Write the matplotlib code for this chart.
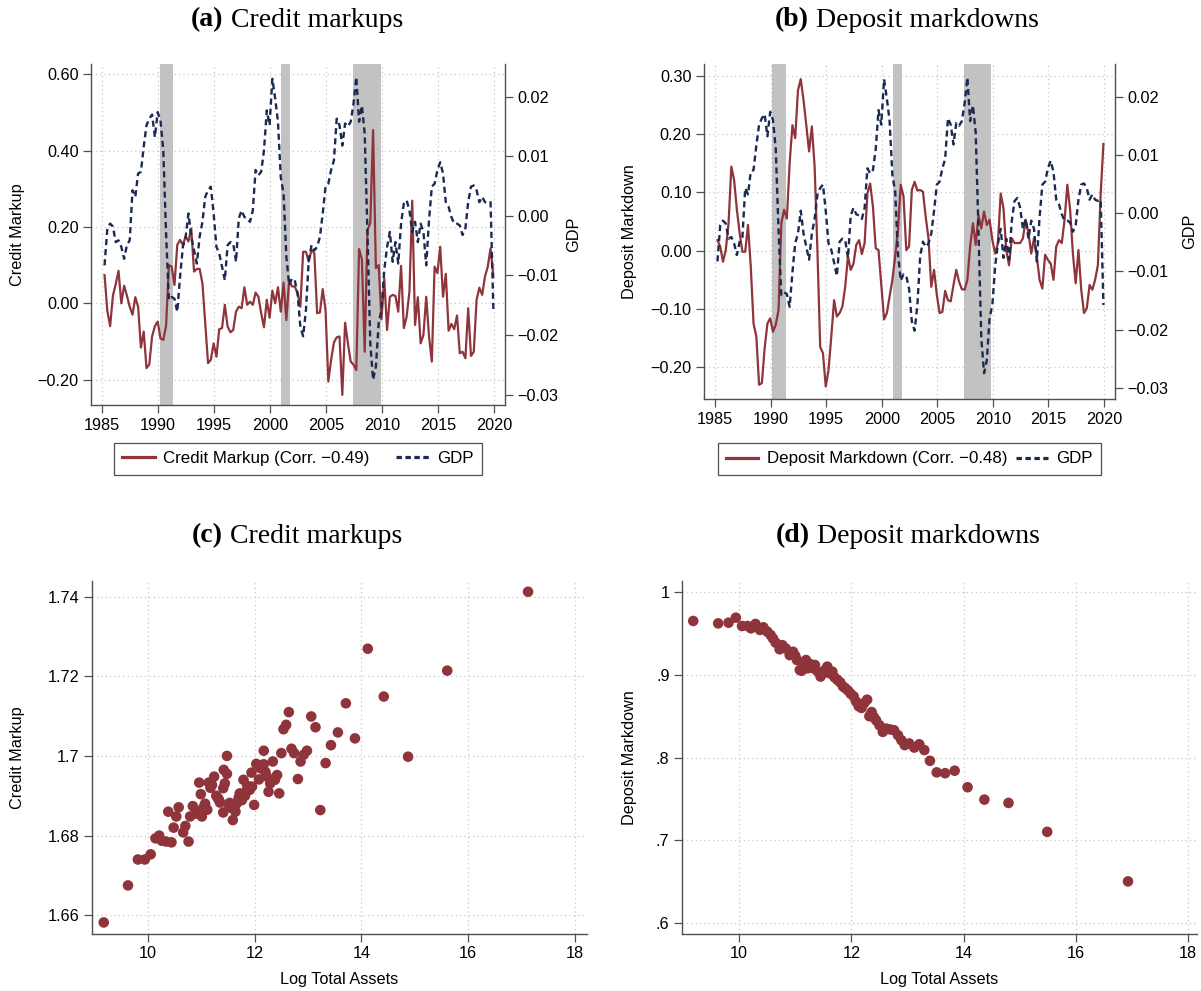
import numpy as np
import matplotlib
matplotlib.use("Agg")
import matplotlib.pyplot as plt
from matplotlib.ticker import FuncFormatter, FixedLocator
from matplotlib.offsetbox import TextArea, HPacker, AnchoredOffsetbox
from matplotlib.lines import Line2D

# ---------------- data ----------------
start_year = 1985.21          # first quarter plotted
credit_markup = [
    0.074, -0.02, -0.06, 0.02, 0.05, 0.085, 0.0, 0.046, 0.02, -0.009,
    -0.03, 0.016, -0.009, -0.116, -0.074, -0.17, -0.16, -0.087, -0.06, -0.048,
    -0.092, -0.096, -0.059, 0.10, 0.096, 0.048, 0.153, 0.166, 0.153, 0.175,
    0.162, 0.196, 0.083, 0.09, 0.09, 0.052, -0.052, -0.157, -0.148, -0.105,
    -0.14, -0.068, -0.065, -0.004, -0.061, -0.076, -0.07, -0.022, -0.009, -0.013,
    0.042, -0.004, 0.004, -0.004, 0.028, 0.017, -0.026, -0.063, 0.009, -0.038,
    0.033, 0.0, 0.042, -0.022, 0.054, -0.044, 0.061, 0.044, 0.044, 0.026,
    -0.009, 0.135, 0.135, 0.109, 0.14, 0.131, -0.026, -0.024, 0.037, -0.017,
    -0.205, -0.148, -0.103, -0.089, -0.087, -0.24, -0.051, -0.105, -0.153, -0.161,
    -0.175, 0.142, 0.115, -0.127, 0.192, 0.21, 0.454, 0.092, 0.10, -0.042,
    0.065, -0.07, 0.017, 0.022, 0.019, -0.022, 0.098, -0.065, -0.035, 0.031,
    0.269, -0.057, 0.016, -0.105, -0.083, 0.017, -0.087, -0.153, 0.096, 0.079,
    0.148, 0.017, 0.077, -0.072, -0.054, -0.068, -0.032, -0.131, -0.127, -0.144,
    -0.013, -0.138, -0.127, 0.009, 0.041, 0.022, 0.07, 0.096, 0.144, 0.07,
]
gdp = [
    -0.0083, -0.0021, -0.0013, -0.0018, -0.0044, -0.0041, -0.0052, -0.0072, -0.0049, -0.0041,
    0.0043, 0.0032, 0.0071, 0.0074, 0.0116, 0.0152, 0.0163, 0.0170, 0.0132, 0.0174,
    0.0160, 0.0110, -0.0030, -0.0141, -0.0136, -0.0139, -0.0161, -0.0102, -0.0052, -0.0035,
    0.0004, -0.0035, -0.0058, -0.0080, -0.0035, -0.0010, 0.0032, 0.0043, 0.0049, 0.0004,
    -0.0052, -0.0063, -0.0085, -0.0108, -0.0049, -0.0044, -0.0046, -0.0077, -0.0004, 0.0009,
    -0.0002, -0.0004, -0.0010, 0.0009, 0.0077, 0.0068, 0.0074, 0.0110, 0.0177, 0.0152,
    0.0230, 0.0197, 0.0158, 0.0065, 0.0037, -0.0069, -0.0116, -0.0105, -0.0108, -0.0130,
    -0.0186, -0.0202, -0.0158, -0.0074, -0.0049, -0.0058, -0.0052, -0.0035, 0.0004, 0.0049,
    0.0054, 0.0077, 0.0093, 0.0163, 0.0152, 0.0118, 0.0155, 0.0150, 0.0158, 0.0188,
    0.0233, 0.0158, 0.0185, 0.0138, -0.0030, -0.0214, -0.0275, -0.0253, -0.0180, -0.0158,
    -0.0091, -0.0052, -0.0027, -0.0077, -0.0044, -0.0080, -0.0013, 0.0021, 0.0026, 0.0009,
    -0.0027, -0.0010, -0.0044, -0.0013, -0.0027, -0.0083, -0.0007, 0.0049, 0.0054, 0.0077,
    0.0090, 0.0071, 0.0023, 0.0015, -0.0002, -0.0013, -0.0013, -0.0016, -0.0032, -0.0021,
    0.0023, 0.0049, 0.0051, 0.0043, 0.0023, 0.0032, 0.0023, 0.0021, 0.0023, -0.0158,
]
deposit_markdown = [
    0.018, 0.007, -0.019, 0.001, 0.047, 0.144, 0.121, 0.07, 0.03, -0.002,
    -0.002, 0.044, -0.027, -0.125, -0.147, -0.23, -0.227, -0.167, -0.125, -0.116,
    -0.139, -0.127, -0.102, 0.047, 0.07, 0.055, 0.15, 0.215, 0.193, 0.275,
    0.294, 0.258, 0.215, 0.17, 0.213, 0.144, 0.001, -0.165, -0.176, -0.233,
    -0.205, -0.147, -0.085, -0.113, -0.107, -0.096, -0.062, -0.01, -0.033, -0.022,
    0.01, 0.018, -0.006, 0.013, 0.098, 0.115, 0.075, 0.004, 0.001, -0.059,
    -0.118, -0.107, -0.079, -0.05, -0.01, 0.035, 0.113, 0.093, 0.001, 0.007,
    0.104, 0.118, 0.103, 0.104, 0.101, 0.058, 0.021, -0.062, -0.033, -0.076,
    -0.107, -0.105, -0.069, -0.085, -0.087, -0.059, -0.033, -0.053, -0.066, -0.067,
    -0.05, 0.007, 0.047, 0.01, 0.061, 0.038, 0.067, 0.044, 0.053, 0.018,
    -0.005, 0.013, 0.098, 0.073, 0.001, -0.025, 0.021, 0.013, 0.013, 0.013,
    0.021, 0.053, 0.03, -0.005, 0.021, -0.01, -0.05, -0.065, -0.007, -0.016,
    -0.022, -0.05, 0.007, 0.018, 0.013, 0.053, 0.113, 0.07, -0.005, -0.056,
    0.001, -0.067, -0.107, -0.099, -0.059, -0.067, -0.05, -0.025, 0.098, 0.183,
]
recessions = [(1990.15, 1991.35), (2000.97, 2001.80), (2007.40, 2009.88)]

c_assets = [9.17, 9.625, 9.81, 9.94, 10.05, 10.14, 10.21, 10.26, 10.34, 10.44,
            10.38, 10.575, 10.53, 10.48, 10.70, 10.66, 10.76, 10.79, 10.84, 10.96,
            10.99, 11.04, 11.01, 11.11, 11.14, 11.24, 11.20, 11.31, 11.35, 11.41,
            11.42, 11.48, 11.48, 11.44, 11.41, 11.53, 11.59, 11.62, 11.67, 11.72,
            11.79, 11.76, 11.84, 11.91, 11.95, 11.94, 11.99, 12.03, 12.08, 12.11,
            12.17, 12.17, 12.23, 12.26, 12.29, 12.34, 12.42, 12.46, 12.50, 12.54,
            12.59, 12.64, 12.69, 12.74, 12.81, 12.86, 12.92, 12.98, 13.06, 13.14,
            13.23, 13.33, 13.43, 13.56, 13.71, 13.88, 14.12, 14.42, 14.875, 15.61,
            17.125, 10.90, 11.07, 11.28, 11.33, 11.55, 11.64, 11.70, 11.86, 11.88,
            11.52, 11.17, 10.92, 12.20, 12.38, 11.82]
c_markup = [1.6582, 1.6675, 1.6740, 1.6740, 1.6753, 1.6793, 1.6800, 1.6787, 1.6785, 1.6783,
            1.6860, 1.6871, 1.6848, 1.6820, 1.6824, 1.6808, 1.6785, 1.6848, 1.6874, 1.6933,
            1.6904, 1.6871, 1.6848, 1.6865, 1.6933, 1.6948, 1.6927, 1.6894, 1.6883, 1.6858,
            1.6965, 1.7000, 1.6955, 1.6931, 1.6919, 1.6882, 1.6839, 1.6871, 1.6882, 1.6906,
            1.6940, 1.6889, 1.6910, 1.6915, 1.6923, 1.6958, 1.6877, 1.6980, 1.6941, 1.6969,
            1.7013, 1.6979, 1.6948, 1.6910, 1.6931, 1.6986, 1.6952, 1.6906, 1.7007, 1.7067,
            1.7078, 1.7110, 1.7018, 1.7007, 1.6942, 1.6986, 1.7003, 1.7013, 1.7099, 1.7072,
            1.6864, 1.6982, 1.7027, 1.7059, 1.7132, 1.7044, 1.7269, 1.7149, 1.6998, 1.7214,
            1.7412, 1.6862, 1.6880, 1.6900, 1.6890, 1.6870, 1.6860, 1.6895, 1.6925, 1.6918,
            1.6875, 1.6920, 1.6855, 1.6960, 1.6940, 1.6900]

d_assets = [9.18, 9.625, 9.81, 9.94, 10.05, 10.15, 10.21, 10.29, 10.37, 10.43,
            10.50, 10.56, 10.60, 10.65, 10.72, 10.77, 10.83, 10.90, 10.96, 11.00,
            11.03, 11.08, 11.11, 11.14, 11.19, 11.22, 11.27, 11.32, 11.35, 11.40,
            11.45, 11.49, 11.53, 11.57, 11.61, 11.66, 11.70, 11.75, 11.80, 11.85,
            11.89, 11.94, 11.99, 12.04, 12.08, 12.13, 12.18, 12.23, 12.28, 12.32,
            12.36, 12.40, 12.44, 12.50, 12.56, 12.62, 12.69, 12.76, 12.83, 12.89,
            12.95, 13.03, 13.12, 13.21, 13.30, 13.40, 13.52, 13.67, 13.84, 14.07,
            14.37, 14.80, 15.49, 16.93]
d_markdown = [0.9653, 0.9624, 0.9632, 0.9693, 0.9592, 0.9592, 0.9564, 0.9617, 0.9544, 0.9576,
              0.9524, 0.9483, 0.9443, 0.9390, 0.9310, 0.9360, 0.9320, 0.9240, 0.9280, 0.9230,
              0.9180, 0.9060, 0.9050, 0.9140, 0.9180, 0.9080, 0.9130, 0.9080, 0.9120, 0.9040,
              0.8980, 0.9020, 0.9060, 0.9100, 0.9020, 0.9040, 0.8970, 0.8940, 0.8910, 0.8860,
              0.8840, 0.8810, 0.8770, 0.8740, 0.8680, 0.8620, 0.8600, 0.8660, 0.8700, 0.8500,
              0.8550, 0.8490, 0.8450, 0.8390, 0.8310, 0.8350, 0.8340, 0.8330, 0.8270, 0.8210,
              0.8150, 0.8170, 0.8120, 0.8160, 0.8090, 0.7960, 0.7820, 0.7810, 0.7840, 0.7640,
              0.7490, 0.7450, 0.7100, 0.6500]

# ---------------- style ----------------
RED = "#8f343b"
NAVY = "#1b2a52"
SHADE = "#c2c2c2"
GRID = "#c8c8c8"
SPINE = "#505050"
SANS = ["Liberation Sans", "DejaVu Sans"]
SERIF = ["Liberation Serif", "DejaVu Serif"]
FS = 11.7
LFS = 12.2

plt.rcParams["font.family"] = SANS
plt.rcParams["font.size"] = FS

fig = plt.figure(figsize=(12.01, 9.91), dpi=100)
W, H = 1201.0, 991.0


def axrect(l, r, t, b):
    return [l / W, 1 - b / H, (r - l) / W, (b - t) / H]


def minus_fmt(dec):
    def f(v, pos):
        s = f"{abs(v):.{dec}f}"
        if round(v, dec) < 0:
            return "\u2212" + s
        return s
    return FuncFormatter(f)


def style_axis(ax, spines=("left", "bottom")):
    for k, sp in ax.spines.items():
        if k in spines:
            sp.set_color(SPINE)
            sp.set_linewidth(1.0)
        else:
            sp.set_visible(False)
    ax.tick_params(direction="out", length=6, width=0.9, color=SPINE,
                   labelsize=FS, pad=3)


def title(cx, cy, lab, txt):
    t1 = TextArea(lab, textprops=dict(family=SERIF, weight="bold", size=20))
    t2 = TextArea(" " + txt, textprops=dict(family=SERIF, size=20))
    box = HPacker(children=[t1, t2], align="baseline", pad=0, sep=0)
    ab = AnchoredOffsetbox(loc="center", child=box, bbox_to_anchor=(cx / W, 1 - cy / H),
                           bbox_transform=fig.transFigure, frameon=False, pad=0, borderpad=0)
    fig.add_artist(ab)


years = start_year + 0.25 * np.arange(len(gdp))
xticks = list(range(1985, 2021, 5))


def ts_panel(rect, series, ylim, yticks, ylim2, yticks2, ylabel, leglabel, ylab_x, gdp_x,
             leg_y, colsp):
    ax = fig.add_axes(rect)
    ax2 = ax.twinx()
    style_axis(ax, ("left", "bottom"))
    style_axis(ax2, ("right",))
    ax.spines["right"].set_visible(False)
    for a, b in recessions:
        ax.axvspan(a, b, color=SHADE, lw=0, zorder=0.5)
    ax.plot(years, series, color=RED, lw=1.6, zorder=3)
    ax2.plot(years, gdp, color=NAVY, lw=1.7, dashes=(2.6, 1.7), zorder=3)
    ax.set_xlim(1984.0, 2021.0)
    ax.set_ylim(*ylim)
    ax2.set_ylim(*ylim2)
    ax.xaxis.set_major_locator(FixedLocator(xticks))
    ax.yaxis.set_major_locator(FixedLocator(yticks))
    ax2.yaxis.set_major_locator(FixedLocator(yticks2))
    ax.yaxis.set_major_formatter(minus_fmt(2))
    ax2.yaxis.set_major_formatter(minus_fmt(2))
    ax.grid(True, color=GRID, ls=(0, (1, 2.5)), lw=0.9)
    ax.set_axisbelow(True)
    ax.set_ylabel(ylabel, fontsize=FS)
    ax.yaxis.set_label_coords(ylab_x, 0.5)
    ax2.set_ylabel("GDP", fontsize=FS, rotation=90)
    ax2.yaxis.set_label_coords(gdp_x, 0.5)
    handles = [Line2D([], [], color=RED, lw=2.3),
               Line2D([], [], color=NAVY, lw=2.3, dashes=(1.7, 1.1))]
    leg = ax.legend(handles, [leglabel, "GDP"], loc="center", bbox_to_anchor=(0.5, leg_y),
                    ncol=2, frameon=True, fancybox=False, fontsize=LFS, handlelength=1.9,
                    handletextpad=0.5, columnspacing=colsp, borderpad=0.5)
    leg.get_frame().set_edgecolor("#222222")
    leg.get_frame().set_linewidth(0.9)
    return ax, ax2


# (a)
ts_panel(axrect(91, 505, 64, 405), credit_markup, (-0.2666, 0.627),
         [-0.2, 0.0, 0.2, 0.4, 0.6], (-0.03173, 0.02548),
         [-0.03, -0.02, -0.01, 0.0, 0.01, 0.02],
         "Credit Markup", "Credit Markup (Corr. \u22120.49)", -0.159, 1.147, -0.158, 1.6)
# (b)
ts_panel(axrect(704, 1115, 64, 399), deposit_markdown, (-0.2544, 0.320),
         [-0.2, -0.1, 0.0, 0.1, 0.2, 0.3], (-0.03194, 0.02562),
         [-0.03, -0.02, -0.01, 0.0, 0.01, 0.02],
         "Deposit Markdown", "Deposit Markdown (Corr. \u22120.48)", -0.163, 1.163, -0.179, 0.5)


def sc_panel(rect, x, y, ylim, yticks, ylabels, ylabel, ylab_x, xlim):
    ax = fig.add_axes(rect)
    style_axis(ax, ("left", "bottom"))
    ax.scatter(x, y, s=58, color=RED, edgecolors="none", zorder=3)
    ax.set_xlim(*xlim)
    ax.set_ylim(*ylim)
    ax.xaxis.set_major_locator(FixedLocator([10, 12, 14, 16, 18]))
    ax.yaxis.set_major_locator(FixedLocator(yticks))
    ax.set_yticklabels(ylabels)
    ax.grid(True, color=GRID, ls=(0, (1, 2.5)), lw=0.9)
    ax.set_axisbelow(True)
    ax.set_ylabel(ylabel, fontsize=FS)
    ax.yaxis.set_label_coords(ylab_x, 0.5)
    ax.set_xlabel("Log Total Assets", fontsize=FS)
    ax.xaxis.set_label_coords(0.5, -0.108)
    return ax


# (c)
sc_panel(axrect(92, 587, 581, 934), c_assets, c_markup, (1.6553, 1.7439),
         [1.66, 1.68, 1.70, 1.72, 1.74], ["1.66", "1.68", "1.7", "1.72", "1.74"],
         "Credit Markup", -0.135, (8.95, 18.23))
# (d)
sc_panel(axrect(682, 1197, 581, 934), d_assets, d_markdown, (0.5863, 1.0137),
         [0.6, 0.7, 0.8, 0.9, 1.0], [".6", ".7", ".8", ".9", "1"],
         "Deposit Markdown", -0.087, (8.98, 18.16))

title(297, 20, "(a)", "Credit markups")
title(907, 20, "(b)", "Deposit markdowns")
title(297, 536, "(c)", "Credit markups")
title(908, 536, "(d)", "Deposit markdowns")

fig.savefig("out.png", dpi=100, facecolor="white")
